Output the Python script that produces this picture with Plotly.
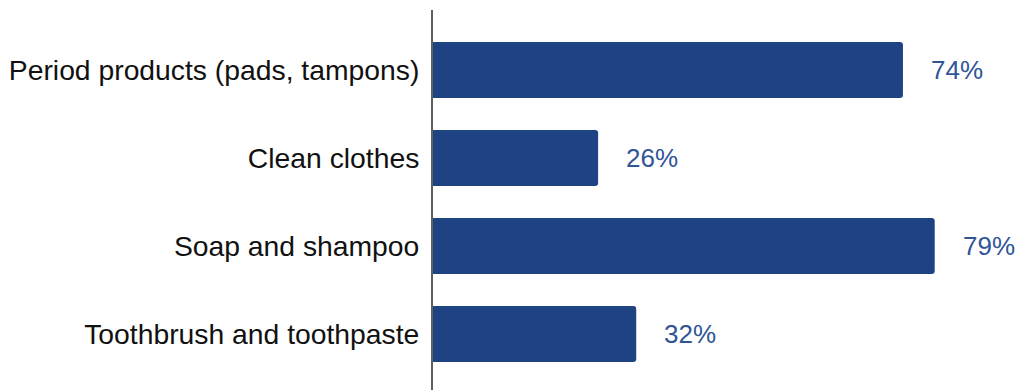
import plotly.graph_objects as go

categories = ["Period products (pads, tampons)", "Clean clothes", "Soap and shampoo", "Toothbrush and toothpaste"]
values = [74, 26, 79, 32]
labels = ["74%", "26%", "79%", "32%"]

BAR = "#1f4382"
LAB = "#2f5597"

fig = go.Figure()
fig.add_trace(go.Bar(
    y=list(range(len(categories))), x=values, orientation="h",
    marker=dict(color=BAR, cornerradius=3, line=dict(width=0)),
    hoverinfo="skip",
))
for i, (v, t) in enumerate(zip(values, labels)):
    fig.add_annotation(x=v, y=i, text=t, showarrow=False, xanchor="left", xshift=26,
                       font=dict(family="Liberation Sans, Arial", size=26, color=LAB))

fig.update_layout(
    width=1016, height=390,
    margin=dict(l=433, r=0, t=10, b=0),
    paper_bgcolor="white", plot_bgcolor="white",
    bargap=0.364, showlegend=False,
    xaxis=dict(range=[0, 91.8], visible=False, showgrid=False, zeroline=False),
    yaxis=dict(
        range=[3.636, -0.682], tickmode="array", tickvals=list(range(len(categories))),
        ticktext=categories, showgrid=False, zeroline=False,
        showline=True, linecolor="#606060", linewidth=2, ticks="",
        ticklabelstandoff=6,
        tickfont=dict(family="Liberation Sans, Arial", size=28.3, color="#111111"),
    ),
)
fig.write_html("out.html")
